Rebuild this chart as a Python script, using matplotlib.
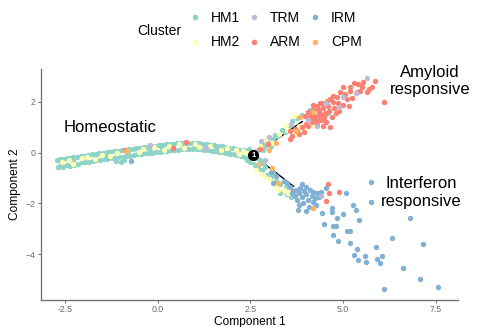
import numpy as np
import matplotlib
matplotlib.use("Agg")
import matplotlib.pyplot as plt
from matplotlib.lines import Line2D

plt.rcParams['font.family'] = ['Liberation Sans', 'DejaVu Sans']

# cell positions per cluster (Component 1, Component 2)
hm1 = [
    # trunk, upper edge
    (-2.72, -0.30), (-2.64, -0.25), (-2.56, -0.24), (-2.46, -0.20), (-2.38, -0.20), (-2.28, -0.18),
    (-2.18, -0.16), (-2.08, -0.13), (-1.98, -0.11), (-1.88, -0.09), (-1.78, -0.07), (-1.68, -0.05),
    (-1.58, -0.02), (-1.48, -0.01), (-1.38, 0.02), (-1.28, 0.04), (-1.18, 0.06), (-1.08, 0.08),
    (-0.98, 0.10), (-0.88, 0.12), (-0.78, 0.14), (-0.68, 0.16), (-0.58, 0.18), (-0.48, 0.20),
    (-0.38, 0.22), (-0.28, 0.24), (-0.18, 0.25), (-0.08, 0.27), (0.02, 0.29), (0.12, 0.31),
    (0.22, 0.33), (0.32, 0.34), (0.42, 0.36), (0.52, 0.37), (0.62, 0.38), (0.72, 0.39),
    (0.82, 0.39), (0.92, 0.39), (1.02, 0.38), (1.12, 0.38), (1.22, 0.36), (1.32, 0.34),
    (1.42, 0.32), (1.52, 0.30), (1.62, 0.27), (1.72, 0.25), (1.82, 0.22), (1.92, 0.20),
    (2.02, 0.18), (2.12, 0.15), (2.22, 0.12), (2.32, 0.10), (2.42, 0.06), (2.52, 0.02),
    # trunk, middle
    (-2.60, -0.42), (-2.30, -0.34), (-2.00, -0.24), (-1.70, -0.16), (-1.40, -0.10), (-1.10, -0.05),
    (-0.80, 0.01), (-0.50, 0.07), (-0.20, 0.12), (0.10, 0.17), (0.40, 0.22), (0.70, 0.26),
    (1.00, 0.27), (1.30, 0.24), (1.60, 0.18), (1.90, 0.11), (2.20, 0.03),
    # trunk, lower edge
    (-2.70, -0.56), (-2.62, -0.52), (-2.55, -0.55), (-2.44, -0.50), (-2.36, -0.52), (-2.25, -0.48),
    (-2.16, -0.44), (-2.05, -0.38), (-1.96, -0.38), (-1.86, -0.35), (-1.76, -0.32), (-1.66, -0.30),
    (-1.55, -0.28), (-1.45, -0.25), (-1.36, -0.24), (-1.25, -0.21), (-1.15, -0.20), (-1.12, -0.34),
    (-1.05, -0.17), (-1.00, -0.36), (-0.95, -0.15), (-0.92, -0.30), (-0.85, -0.13), (-0.75, -0.11),
    (-0.65, -0.09), (-0.55, -0.07), (-0.45, -0.05), (-0.35, -0.03), (-0.25, -0.01), (-0.15, 0.00),
    (-0.05, 0.02), (0.05, 0.04), (0.15, 0.06), (0.25, 0.07), (0.35, 0.09), (0.45, 0.11),
    (0.55, 0.12), (0.65, 0.13), (0.75, 0.14), (0.85, 0.15), (0.95, 0.14), (1.05, 0.14),
    (1.15, 0.13), (1.25, 0.12), (1.35, 0.10), (1.45, 0.08), (1.55, 0.06), (1.65, 0.04),
    (1.75, 0.01), (1.85, -0.01), (1.95, -0.04), (2.05, -0.06), (2.15, -0.09), (2.25, -0.13),
    (2.35, -0.15), (2.45, -0.18), (2.55, -0.22), (2.40, -0.30), (2.50, -0.36), (2.45, 0.15),
    # upper branch
    (2.65, 0.05), (2.72, 0.15), (2.80, 0.35), (2.85, 0.10), (2.88, 0.25), (2.95, 0.45),
    (3.02, 0.40), (3.05, 0.25), (3.10, 0.55), (3.15, 0.70), (3.22, 0.65), (3.35, 0.90),
    (3.42, 0.80), (3.55, 1.05), (3.62, 1.25), (3.75, 1.35), (3.90, 1.50), (4.10, 1.70),
    (4.35, 1.45), (4.60, 1.55),
    # lower branch
    (2.55, -0.35), (2.62, -0.50), (2.68, -0.20), (2.70, -0.60), (2.75, -0.30), (2.82, -0.70),
    (2.85, -0.40), (2.90, -0.55), (2.95, -0.88), (3.05, -0.95), (3.12, -0.80), (3.20, -1.10),
    (3.30, -1.25), (3.31, -1.57), (3.45, -1.35), (3.48, -1.62), (3.60, -1.75),
]
hm2 = [
    (-2.58, -0.38), (-2.40, -0.30), (-2.30, -0.46), (-2.05, -0.22), (-1.92, -0.18), (-1.70, -0.24),
    (-1.52, -0.08), (-1.30, -0.14), (-1.10, 0.00), (-0.85, 0.08), (-0.52, 0.02), (-0.40, 0.16),
    (-0.10, 0.22), (0.18, 0.12), (0.30, 0.28), (0.58, 0.33), (0.70, 0.20), (1.00, 0.34),
    (1.10, 0.22), (1.40, 0.28), (1.70, 0.12), (1.88, 0.18), (2.10, 0.10), (2.20, -0.04),
    (2.30, 0.05), (2.40, -0.02),
    (2.75, 0.25), (2.92, 0.55), (3.08, 0.38), (3.28, 0.75), (3.45, 1.10), (3.50, 0.90),
    (3.68, 1.45), (3.80, 1.05), (3.95, 0.95), (3.70, 0.70), (4.15, 1.05), (4.45, 1.30),
    (2.58, -0.25), (2.66, -0.68), (2.78, -0.85), (2.88, -0.95), (3.00, -1.05), (3.18, -1.30),
    (3.52, -1.57), (3.40, -1.45), (3.25, -1.45),
]
trm = [
    (-0.20, 0.30), (1.30, 0.18), (2.78, 0.45), (3.00, 0.60), (3.60, 1.15), (4.05, 1.30),
    (4.30, 1.05), (4.55, 1.95), (5.00, 2.20), (5.35, 2.35), (5.65, 2.95), (4.90, 1.80),
    (4.40, -1.69), (2.90, -0.30),
]
arm = [
    (-0.89, 0.10), (0.40, 0.20), (0.75, 0.42), (2.77, 0.13), (2.98, 0.33), (3.58, 0.53),
    (3.58, 0.84), (3.63, 0.64), (3.70, 0.92), (3.76, 0.84), (3.82, 0.75), (3.90, 1.00),
    (3.95, 0.80), (4.00, 1.15), (4.06, 1.04), (3.98, 1.45), (4.05, 1.60), (4.10, 1.40),
    (4.15, 1.20), (4.17, 1.51), (4.19, 1.32), (4.20, 1.70), (4.20, 1.90), (4.25, 1.45),
    (4.28, 1.30), (4.30, 1.85), (4.30, 1.12), (4.33, 1.71), (4.35, 1.60), (4.38, 1.95),
    (4.38, 1.44), (4.40, 1.30), (4.42, 1.48), (4.44, 1.94), (4.45, 1.75), (4.46, 1.04),
    (4.48, 1.35), (4.50, 1.55), (4.52, 1.51), (4.55, 1.20), (4.57, 2.03), (4.60, 1.85),
    (4.62, 1.65), (4.65, 2.10), (4.65, 1.00), (4.70, 1.40), (4.73, 2.22), (4.73, 1.98),
    (4.75, 1.75), (4.80, 1.55), (4.84, 2.18), (4.85, 1.95), (4.90, 1.65), (4.92, 2.38),
    (5.00, 1.90), (5.00, 2.58), (5.05, 2.30), (5.10, 2.10), (5.15, 1.85), (5.19, 2.42),
    (5.20, 2.60), (5.25, 2.15), (5.30, 2.75), (5.38, 2.38), (5.40, 2.70), (5.45, 2.45),
    (5.50, 2.58), (5.55, 2.80), (5.65, 2.38), (5.70, 2.50), (5.78, 2.58), (5.86, 2.82),
    (6.10, 1.98),
    (3.66, -1.50), (4.60, -1.25), (4.62, -1.58), (4.89, -1.53), (4.54, -1.92),
]
irm = [
    (-0.73, -0.31), (3.05, -0.75), (3.12, -1.18), (3.20, -0.90), (3.40, -1.10), (3.50, -1.20),
    (3.58, -1.35), (3.62, -1.60), (3.70, -1.70), (3.72, -1.45), (3.75, -1.85), (3.78, -2.25),
    (3.80, -1.60), (3.82, -2.05), (3.85, -1.40), (3.88, -1.25), (3.90, -1.75), (3.92, -2.00),
    (3.95, -1.50), (4.00, -1.62), (4.00, -1.35), (4.00, -2.29), (4.05, -1.85), (4.08, -2.15),
    (4.10, -1.45), (4.15, -1.70), (4.18, -1.95), (4.20, -1.55), (4.25, -1.80), (4.28, -2.05),
    (4.30, -1.60), (4.35, -1.75), (4.40, -1.55), (4.43, -2.36), (4.49, -2.80), (4.54, -1.38),
    (4.70, -2.16), (4.70, -2.32), (4.73, -2.87), (4.80, -2.90), (4.84, -2.56), (4.73, -3.23),
    (4.87, -3.47), (5.00, -2.40), (5.08, -1.58), (5.10, -3.07), (5.19, -3.10), (5.19, -3.55),
    (5.27, -2.08), (5.35, -2.24), (5.43, -2.64), (5.38, -3.78), (5.30, -4.02), (5.40, -4.22),
    (5.59, -4.06), (5.62, -4.30), (5.75, -1.14), (5.75, -1.93), (5.89, -3.70), (5.91, -4.19),
    (5.99, -4.34), (6.05, -4.06), (6.32, -3.35), (6.61, -4.53), (6.80, -2.56), (7.15, -3.60),
    (7.07, -4.97), (7.55, -5.28), (6.10, -5.36),
]
cpm = [
    (-0.86, 0.05), (3.00, 0.10), (3.20, 0.40), (3.72, 0.85), (3.85, 1.40), (4.20, 1.60),
    (2.72, -0.46), (3.08, -0.62), (3.25, -1.18), (4.19, -2.17),
]

cluster_names = ['HM1', 'HM2', 'TRM', 'ARM', 'IRM', 'CPM']
cluster_pts = [hm1, hm2, trm, arm, irm, cpm]
cluster_colors = ['#8DD3C7', '#FFFFB3', '#BEBADA', '#FB8072', '#80B1D3', '#FDB462']
draw_order = ['HM1', 'HM2', 'ARM', 'IRM', 'TRM', 'CPM']

# trajectory branches out of the branch point
traj_upper = [(2.58, -0.10), (3.90, 1.23)]
traj_lower = [(2.58, -0.10), (3.66, -1.32)]
branch_point = (2.58, -0.10)

fig = plt.figure(figsize=(4.78, 3.27), dpi=100)
ax = fig.add_axes([0.086, 0.083, 0.872, 0.706])

for seg in [traj_upper, traj_lower]:
    seg = np.array(seg)
    ax.plot(seg[:, 0], seg[:, 1], color='black', lw=1.0, zorder=1)

for name in draw_order:
    i = cluster_names.index(name)
    pts = np.array(cluster_pts[i])
    ax.scatter(pts[:, 0], pts[:, 1], s=15, color=cluster_colors[i], linewidths=0, zorder=2)

ax.plot(*branch_point, 'o', ms=7, color='black', zorder=4)
ax.text(*branch_point, '1', color='white', fontsize=5.5, fontweight='bold',
        ha='center', va='center', zorder=5)

ax.text(-2.55, 1.0, 'Homeostatic', fontsize=12, ha='left', va='center')
ax.text(7.34, 2.82, 'Amyloid\nresponsive', fontsize=12, ha='center', va='center',
        linespacing=1.2, clip_on=False)
ax.text(7.12, -1.55, 'Interferon\nresponsive', fontsize=12, ha='center', va='center',
        linespacing=1.25, clip_on=False)

ax.set_xlim(-3.15, 8.1)
ax.set_ylim(-5.8, 3.3)
ax.set_xticks([-2.5, 0.0, 2.5, 5.0, 7.5])
ax.set_xticklabels(['-2.5', '0.0', '2.5', '5.0', '7.5'])
ax.set_yticks([-4, -2, 0, 2])
ax.tick_params(labelsize=6.3, labelcolor='#6b6b6b', color='#6b6b6b', length=2.5, width=0.7, pad=1.5)
for side in ['top', 'right']:
    ax.spines[side].set_visible(False)
for side in ['left', 'bottom']:
    ax.spines[side].set_color('#6b6b6b')
    ax.spines[side].set_linewidth(0.9)
ax.set_xlabel('Component 1', fontsize=8.6, labelpad=1)
ax.set_ylabel('Component 2', fontsize=8.6, labelpad=3)

handles = [Line2D([], [], marker='o', ls='', ms=3, color=c) for c in cluster_colors]
fig.text(137 / 478, 1 - 31 / 327, 'Cluster', fontsize=10, ha='left', va='center')
fig.legend(handles, cluster_names, ncol=3, loc='upper left',
           bbox_to_anchor=(188 / 478, 1 - 11 / 327), frameon=False, fontsize=10,
           handlelength=1.0, handletextpad=0.65, columnspacing=0.5,
           labelspacing=0.75, borderpad=0, borderaxespad=0)

fig.savefig('out.png', dpi=100)
